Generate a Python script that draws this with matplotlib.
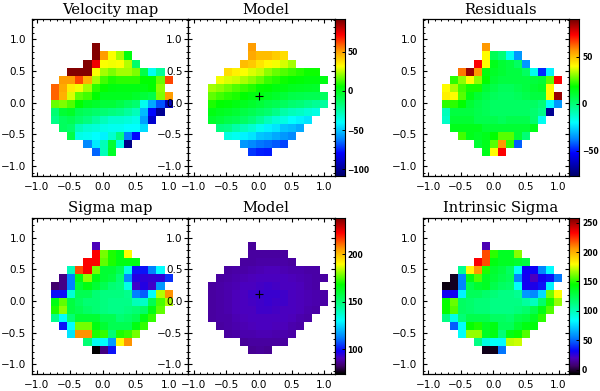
import numpy as np
import matplotlib
matplotlib.use("Agg")
import matplotlib.pyplot as plt
from matplotlib.colors import LinearSegmentedColormap
from matplotlib.ticker import MultipleLocator, FixedLocator

row_start = [5, 5, 4, 2, 1, 0, 0, 0, 0, 0, 1, 2, 4, 5]

velocity_map = [
    [88],
    [88, 50, 31, 22, 3],
    [88, 73, 31, 30, 31, 24, -14],
    [88, 88, 88, 31, 22, 18, 22, 22, 18, -8, -38, -22],
    [50, 50, 62, 46, 22, 12, 8, 10, 10, 10, 5, 5, 16, 62],
    [58, 48, 35, 30, 22, 10, 6, 3, 2, 2, 2, 2, 5, 20],
    [58, 46, 28, 15, 12, 5, 0, 0, 0, 0, -3, -5, -8, 18, 50],
    [16, 18, 14, 5, 0, -3, -5, -5, -8, -12, -15, -38, -55, -68, -92],
    [-16, -4, -2, -10, -12, -14, -16, -18, -20, -24, -28, -52, -78, -100],
    [-20, -12, -10, -14, -18, -24, -28, -32, -32, -34, -36, -56, -88],
    [-12, -14, -28, -32, -34, -36, -38, -38, -40, -40, -46],
    [-8, -36, -38, -40, -42, -32, -18, -62, -78],
    [-60, -44, -28, -4, -36, -102],
    [-66, -28, -2],
]
velocity_model = [
    [50],
    [48, 44, 44, 41, 38],
    [44, 42, 36, 32, 30, 27, 22],
    [38, 34, 31, 28, 25, 20, 16, 14, 11, 9, 7, 7],
    [30, 28, 26, 23, 20, 16, 11, 9, 7, 5, 4, 3, 3, 2],
    [22, 20, 17, 14, 11, 9, 6, 5, 3, 2, 0, -1, -2, -3],
    [15, 12, 10, 8, 5, 3, 2, 0, -3, -5, -8, -9, -10, -10, -12],
    [8, 5, 4, 2, 0, -3, -5, -8, -10, -12, -15, -17, -20, -22, -24],
    [2, 0, -2, -4, -7, -10, -13, -15, -20, -25, -28, -30, -33, -35],
    [-3, -5, -8, -10, -13, -17, -22, -28, -33, -35, -40, -42, -45],
    [-18, -20, -25, -28, -32, -38, -42, -45, -50, -52, -55],
    [-35, -38, -42, -45, -50, -52, -55, -58, -60],
    [-58, -60, -63, -65, -67, -70],
    [-72, -75, -76],
]
residuals = [
    [56],
    [40, 5, 0, -18, -35],
    [73, 40, 14, 10, 8, 3, -35],
    [60, 85, 56, 16, 12, 10, 8, 8, 3, -18, -48, -22],
    [22, 30, 40, 30, 18, 10, 8, 8, 8, 8, 9, 10, 26, 73],
    [40, 33, 24, 20, 20, 10, 7, 4, 4, 6, 8, 10, 12, 40],
    [42, 40, 26, 15, 10, 7, 4, 3, 3, 4, 6, 8, 8, 40, 85],
    [22, 22, 18, 10, 7, 5, 3, 3, 3, 3, 3, 3, 0, -20, -35],
    [-10, 8, 8, 8, 6, 5, 3, 3, 3, 3, 3, 1, -3, -70],
    [-12, 10, 10, 10, 6, 6, 6, 4, 6, 6, 6, 2, -18],
    [14, 14, 14, 14, 10, 10, 10, 10, 10, 10, 14],
    [24, 14, 12, 14, 18, 26, 26, 10, 0],
    [10, 14, 26, 56, 22, -42],
    [14, 40, 73],
]
sigma_map = [
    [90],
    [222, 178, 170, 165, 189],
    [222, 222, 176, 170, 165, 165, 165],
    [140, 214, 222, 178, 160, 160, 155, 134, 100, 100, 112, 130],
    [85, 112, 165, 180, 165, 160, 158, 150, 113, 95, 94, 93, 94, 103],
    [82, 85, 112, 160, 165, 160, 155, 150, 148, 133, 92, 95, 92, 115],
    [99, 99, 136, 155, 155, 150, 148, 148, 148, 146, 112, 108, 130, 183, 206],
    [165, 176, 158, 153, 150, 150, 148, 147, 147, 147, 140, 138, 155, 174, 182],
    [170, 180, 158, 155, 152, 150, 148, 147, 147, 148, 150, 152, 165, 176],
    [146, 130, 150, 160, 160, 160, 155, 155, 150, 152, 155, 165, 172],
    [100, 130, 178, 178, 165, 160, 155, 155, 155, 165, 172],
    [126, 206, 206, 170, 172, 150, 170, 172, 178],
    [150, 132, 130, 116, 190, 206],
    [74, 84, 100],
]
sigma_model = [
    [87],
    [87.3, 87.7, 87.7, 87.7, 87.3],
    [87.3, 87.7, 88.4, 88.4, 88.4, 88, 87.7],
    [87.3, 88, 88.4, 89, 89.4, 89.8, 89.8, 89.4, 89, 88.7, 88.4, 88],
    [87.3, 88, 88.7, 89.4, 90, 90.4, 90.7, 90.7, 90.4, 90, 89.4, 89, 88.4, 87.7],
    [87.3, 88, 88.7, 89.4, 90.4, 91, 91.4, 91.8, 91.4, 91, 90.4, 89.8, 89, 88.4],
    [87.7, 88.4, 89, 90, 90.7, 91.8, 92.4, 92.8, 92.4, 91.8, 91, 90, 89.4, 88.7, 88],
    [87.7, 88.4, 89, 90, 90.7, 91.4, 92, 92.4, 92, 91.8, 90.7, 90, 89.4, 88.7, 88],
    [87.3, 88, 88.7, 89.8, 90.4, 91, 91.8, 91.8, 91.4, 91, 90.4, 89.8, 89, 88.4],
    [87.3, 88, 88.4, 89.4, 90, 90.7, 91, 91, 90.7, 90.4, 89.8, 89, 88.4],
    [87.3, 88, 88.7, 89.4, 90, 90.4, 90.4, 90, 89.8, 89, 88.4],
    [87.3, 88, 88.7, 89, 89.4, 89.4, 89, 88.7, 88],
    [87, 87.3, 87.7, 87.7, 87.3, 87.3],
    [86, 86.5, 86],
]
intrinsic_sigma = [
    [18],
    [218, 150, 135, 135, 162],
    [232, 218, 140, 135, 135, 132, 128],
    [108, 180, 205, 148, 132, 128, 120, 85, 32, 32, 55, 82],
    [-3, 55, 140, 155, 135, 130, 125, 122, 55, 30, 20, 30, 35, 52],
    [-5, -3, 55, 125, 132, 135, 125, 120, 118, 85, 30, 28, 35, 80],
    [30, 30, 80, 122, 122, 118, 115, 112, 112, 108, 60, 56, 75, 160, 178],
    [145, 158, 120, 118, 115, 115, 112, 112, 112, 112, 105, 98, 118, 148, 165],
    [145, 155, 120, 118, 115, 115, 112, 112, 112, 114, 118, 125, 140, 155],
    [112, 88, 115, 125, 125, 125, 120, 120, 118, 125, 128, 135, 150],
    [48, 84, 145, 148, 135, 140, 122, 122, 132, 140, 142],
    [85, 165, 165, 135, 140, 115, 140, 145, 155],
    [112, 90, 85, 82, 170, 172],
    [-4, -4, 52],
]

titles = ["Velocity map", "Model", "Residuals", "Sigma map", "Model", "Intrinsic Sigma"]
ticks_top_bar = [-100, -50, 0, 50]
ticks_res_bar = [-50, 0, 50]
ticks_sig_bar = [100, 150, 200]
ticks_int_bar = [0, 50, 100, 150, 200, 250]
center = (0.0, 0.105)

FW, FH = 600, 391
x_edges = -0.786 + 0.1231 * np.arange(16)
y_edges = 0.934 - 0.1265 * np.arange(15)

upper = [(.23, (0, .5, 1)), (.34, (0, 1, 1)), (.45, (0, 1, .5)), (.57, (0, 1, 0)), (.65, (.6, 1, 0)),
         (.70, (1, 1, 0)), (.80, (1, .6, 0)), (.90, (1, 0, 0)), (1, (.45, 0, 0))]
vel_colors = [(0, (0, 0, .42)), (.145, (0, 0, 1))] + upper
sig_colors = [(0, (0, 0, 0)), (.05, (.25, 0, .42)), (.1, (.3, 0, .74)), (.145, (.05, 0, .97))] + upper
vel_cmap = LinearSegmentedColormap.from_list("vel", vel_colors, 256)
sig_cmap = LinearSegmentedColormap.from_list("sig", sig_colors, 256)


def grid(rows):
    g = np.full((14, 15), np.nan)
    for i, (s, r) in enumerate(zip(row_start, rows)):
        g[i, s:s + len(r)] = r
    return np.ma.masked_invalid(g)


def make_ax(fig, l, r, t, b):
    return fig.add_axes([l / FW, 1 - b / FH, (r - l) / FW, (b - t) / FH])


def panel(fig, rows, box, xlim, cmap, vmin, vmax, title, title_x, cross=False):
    ax = make_ax(fig, *box)
    ax.pcolormesh(x_edges, y_edges, grid(rows), cmap=cmap, vmin=vmin, vmax=vmax,
                  shading="flat", linewidth=0, rasterized=True)
    ax.set_xlim(*xlim)
    ax.set_ylim(-1.15, 1.315)
    ax.xaxis.set_major_locator(MultipleLocator(0.5))
    ax.yaxis.set_major_locator(MultipleLocator(0.5))
    ax.xaxis.set_minor_locator(MultipleLocator(0.1))
    ax.yaxis.set_minor_locator(MultipleLocator(0.1))
    ax.xaxis.set_major_formatter(lambda v, p: f"{v:.1f}".replace("-", "\u2212"))
    ax.yaxis.set_major_formatter(lambda v, p: f"{v:.1f}".replace("-", "\u2212"))
    ax.tick_params(which="major", direction="in", top=True, right=True, length=3.2, width=.8,
                   labelsize=7.5, pad=4.2)
    ax.tick_params(which="minor", direction="in", top=True, right=True, length=1.6, width=.7)
    for sp in ax.spines.values():
        sp.set_linewidth(.9)
    if cross:
        ax.plot(*center, marker="+", color="k", ms=6, mew=.8, zorder=5)
    fig.text(title_x / FW, 1 - (box[2] - 5.5) / FH, title, ha="center", va="baseline",
             family="DejaVu Serif", fontsize=10.6)
    return ax


def cbar(fig, box, cmap, vmin, vmax, ticks):
    ax = make_ax(fig, *box)
    ax.imshow(np.linspace(1, 0, 256)[:, None], aspect="auto", cmap=cmap, vmin=0, vmax=1,
              extent=[0, 1, vmin, vmax])
    ax.set_xticks([])
    ax.yaxis.tick_right()
    ax.yaxis.set_major_locator(FixedLocator(ticks))
    ax.yaxis.set_major_formatter(lambda v, p: f"{v:.0f}".replace("-", "\u2212"))
    ax.tick_params(axis="y", direction="in", length=2, width=.7, labelsize=5.5, pad=2.0)
    for lab in ax.get_yticklabels():
        lab.set_fontweight("bold")
    for sp in ax.spines.values():
        sp.set_linewidth(.8)


fig = plt.figure(figsize=(FW / 100, FH / 100), dpi=100)
xA = (-1.074, 1.297)
xB = (-1.085, 1.165)
rows_y = [(19.3, 175.7), (217.7, 374)]
A, B, C = (32, 188.3), (188.3, 335), (422.7, 569.3)
title_xs = [110, 266, 501]
V = (-108, 91)
R = (-76.6, 89.7)
S = (73.6, 238.7)
I = (-7.4, 258.5)
for row, (t, b) in enumerate(rows_y):
    data = [(velocity_map, velocity_model, residuals), (sigma_map, sigma_model, intrinsic_sigma)][row]
    cm = [vel_cmap, sig_cmap][row]
    r1, r2 = [(V, R), (S, I)][row]
    panel(fig, data[0], (A[0], A[1], t, b), xA, cm, *r1, titles[row * 3], title_xs[0])
    panel(fig, data[1], (B[0], B[1], t, b), xB, cm, *r1, titles[row * 3 + 1], title_xs[1], cross=True)
    panel(fig, data[2], (C[0], C[1], t, b), xB, cm, *r2, titles[row * 3 + 2], title_xs[2])
    cbar(fig, (335, 344.8, t, b), cm, *r1, [ticks_top_bar, ticks_sig_bar][row])
    cbar(fig, (569.3, 579.3, t, b), cm, *r2, [ticks_res_bar, ticks_int_bar][row])

fig.savefig("out.png", dpi=100)
